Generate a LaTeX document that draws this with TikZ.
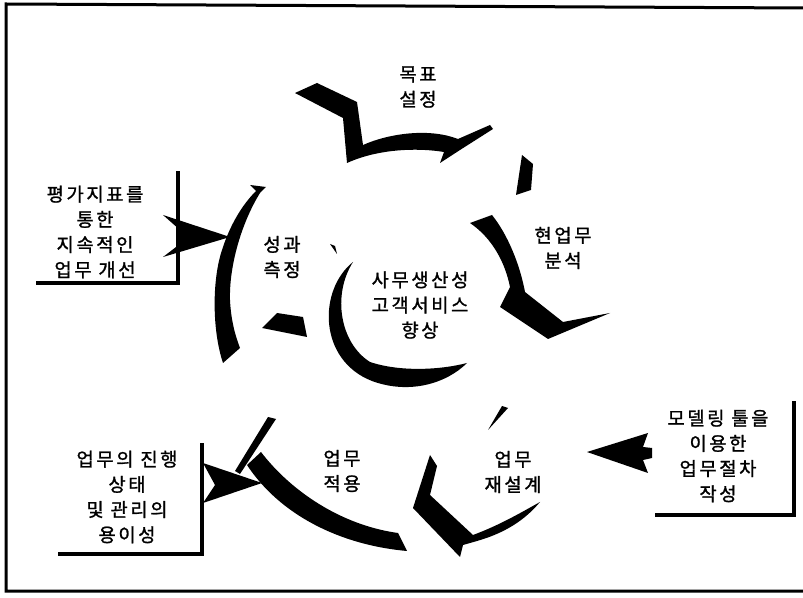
\documentclass[tikz,border=0pt]{standalone}
\usepackage{fontspec}
\usepackage{tikz}
\newfontfamily\krfont[LetterSpace=14, FakeBold=1.2]{Noto Sans CJK KR}

\begin{document}
\begin{tikzpicture}[x=0.03cm, y=-0.03cm,
  stage/.style={font=\krfont\fontsize{16}{21.5}\selectfont, align=center, inner sep=0pt},
  blob/.style={fill=black, draw=none},
  bracket/.style={draw=black, line width=0.135cm, line cap=rect},
  frame/.style={draw=black, line width=0.09cm},
]
\useasboundingbox (0,0) rectangle (803,598);
\fill[white] (0,0) rectangle (803,598);
\draw[frame] (803,8) -- (6,4) -- (6,591) -- (803,591);

\node[stage] (goal) at (418,87) {목표\\설정};
\node[stage] (anal) at (563,248) {현업무\\분석};
\node[stage] (meas) at (282,257) {성과\\측정};
\node[stage] (core) at (420,305) {사무생산성\\고객서비스\\향상};
\node[stage] (apply) at (342,471) {업무\\적용};
\node[stage] (redes) at (513,472) {업무\\재설계};
\node[stage] (evalbox) at (95,232) {평가지표를\\통한\\지속적인\\업무 개선};
\node[stage] (statbox) at (127,497) {업무의 진행\\상태\\및 관리의\\용이성};
\node[stage] (modbox) at (718,456) {모델링 툴을\\이용한\\업무절차\\작성};

% cycle pieces
\fill[blob] (295,93) -- (317,83) -- (357,102) -- (363,145) .. controls (390,133) and (430,128) .. (458,139) -- (490,125) -- (493,129) -- (460,150) -- (440,163) -- (444,152) .. controls (420,148) and (380,148) .. (347,163) -- (343,118) -- cycle;
\fill[blob] (522,155) -- (533,164) -- (531,190) -- (516,195) -- cycle;
\fill[blob] (470,223) -- (492,215) .. controls (508,235) and (520,265) .. (525,292) -- (563,322) -- (610,313) -- (548,339) -- (500,307) -- (510,287) .. controls (505,262) and (492,238) .. (470,223) -- cycle;
\fill[blob] (353,262) .. controls (318,290) and (318,360) .. (372,381) .. controls (410,395) and (447,383) .. (467,363) .. controls (440,370) and (400,372) .. (370,362) .. controls (340,343) and (332,295) .. (353,262) -- cycle;
\fill[blob] (330,244) -- (335,246) -- (337,254) -- cycle;
\fill[blob] (250,185) -- (266,187) -- (260,193) .. controls (242,222) and (229,265) .. (230,300) .. controls (231,320) and (235,335) .. (240,348) -- (223,363) .. controls (212,330) and (212,280) .. (222,250) .. controls (230,225) and (242,205) .. (256,191) -- cycle;
\fill[blob] (262,328) -- (277,313) -- (303,317) -- (307,337) -- cycle;
\fill[blob] (268,417) -- (276,419) -- (240,474) -- (235,471) -- cycle;
\fill[blob] (247,465) -- (261,452) .. controls (290,490) and (340,525) .. (398,533) -- (407,551) .. controls (340,545) and (280,515) .. (247,465) -- cycle;
\fill[blob] (430,455) -- (437,466) -- (430,495) -- (473,535) .. controls (500,525) and (522,512) .. (540,502) .. controls (525,520) and (505,533) .. (477,541) -- (463,545) -- (460,557) -- (413,508) -- cycle;
\fill[blob] (502,406) -- (508,408) -- (488,430) -- cycle;

% side boxes
\draw[bracket] (178,173) -- (178,283) -- (38,283);
\fill[blob] (163,215) -- (230,237) -- (163,257) -- (180,244) -- (180,230) -- cycle;
\draw[bracket] (202,445) -- (202,554) -- (60,554);
\fill[blob] (203,463) -- (262,483) -- (203,503) -- (215,485) -- cycle;
\draw[bracket] (794,403) -- (794,515) -- (657,515);
\fill[blob] (587,452) -- (648,433) -- (643,447) -- (652,448) -- (652,458) -- (643,460) -- (648,473) -- cycle;
\end{tikzpicture}
\end{document}
